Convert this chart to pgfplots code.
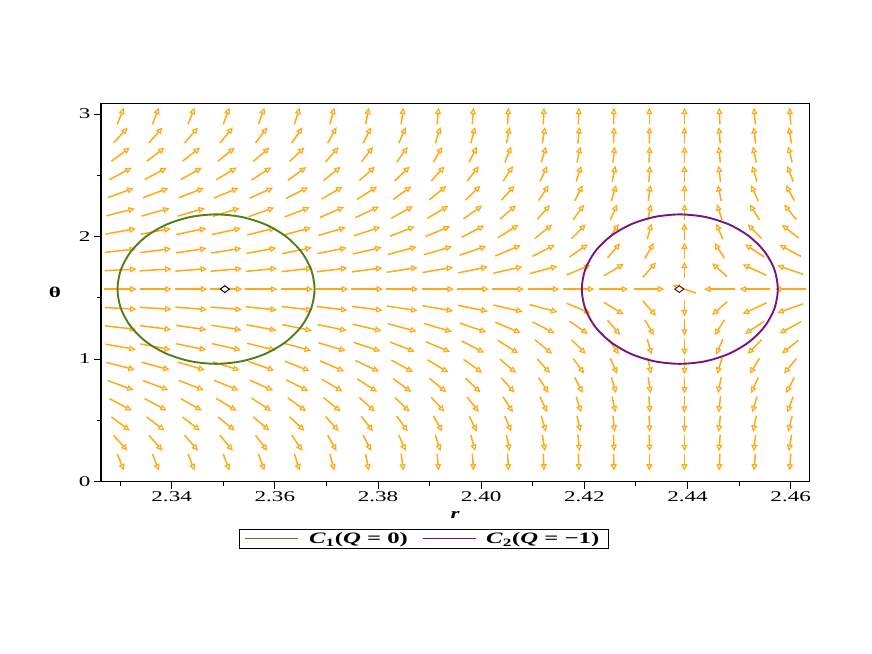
\documentclass[border=0pt]{standalone}
\usepackage{fontspec}
\setmainfont{Liberation Serif}[FakeStretch=1.55]
\usepackage{pgfplots}
\pgfplotsset{compat=1.18}
\usepackage{pgfplotstable}
\usetikzlibrary{arrows.meta}

\definecolor{arrowc}{RGB}{255,170,20}
\definecolor{cgreen}{RGB}{80,126,26}
\definecolor{cpurple}{RGB}{120,22,124}

% field arrows: grid point (r,t), arrow components dx, dy as measured (pixels of the reference)
\pgfplotstableread{
r t dx dy
2.3301 0.1571 6.7 -16.7
2.3301 0.3142 14.0 -15.3
2.3301 0.4712 18.5 -13.7
2.3301 0.6283 22.5 -12.0
2.3301 0.7854 26.0 -9.5
2.3301 0.9425 28.5 -7.3
2.3301 1.0996 30.5 -5.3
2.3301 1.2566 31.0 -3.5
2.3301 1.4137 32.0 -1.7
2.3301 1.5708 32.3 0
2.3301 1.7279 32.0 1.7
2.3301 1.8850 31.0 3.5
2.3301 2.0420 30.5 5.3
2.3301 2.1991 28.5 7.3
2.3301 2.3562 26.0 9.5
2.3301 2.5133 22.5 12.0
2.3301 2.6704 18.5 13.7
2.3301 2.8274 14.0 15.3
2.3301 2.9845 6.7 16.7
2.3369 0.1571 6.5 -16.7
2.3369 0.3142 13.7 -15.5
2.3369 0.4712 18.0 -13.5
2.3369 0.6283 22.0 -11.8
2.3369 0.7854 25.5 -9.5
2.3369 0.9425 28.0 -7.7
2.3369 1.0996 30.3 -5.7
2.3369 1.2566 31.0 -4.0
2.3369 1.4137 32.0 -2.0
2.3369 1.5708 32.3 0
2.3369 1.7279 32.0 2.0
2.3369 1.8850 31.0 4.0
2.3369 2.0420 30.3 5.7
2.3369 2.1991 28.0 7.7
2.3369 2.3562 25.5 9.5
2.3369 2.5133 22.0 11.8
2.3369 2.6704 18.0 13.5
2.3369 2.8274 13.7 15.5
2.3369 2.9845 6.5 16.7
2.3438 0.1571 6.5 -16.7
2.3438 0.3142 13.5 -15.6
2.3438 0.4712 17.5 -13.5
2.3438 0.6283 21.3 -12.0
2.3438 0.7854 25.2 -9.8
2.3438 0.9425 27.3 -8.0
2.3438 1.0996 30.0 -6.2
2.3438 1.2566 30.7 -4.5
2.3438 1.4137 31.7 -2.5
2.3438 1.5708 32.3 0
2.3438 1.7279 31.7 2.5
2.3438 1.8850 30.7 4.5
2.3438 2.0420 30.0 6.2
2.3438 2.1991 27.3 8.0
2.3438 2.3562 25.2 9.8
2.3438 2.5133 21.3 12.0
2.3438 2.6704 17.5 13.5
2.3438 2.8274 13.5 15.6
2.3438 2.9845 6.5 16.7
2.3506 0.1571 6.3 -16.7
2.3506 0.3142 13.0 -15.7
2.3506 0.4712 16.8 -13.5
2.3506 0.6283 20.7 -12.3
2.3506 0.7854 24.7 -10.0
2.3506 0.9425 26.7 -8.3
2.3506 1.0996 29.3 -6.5
2.3506 1.2566 30.3 -4.8
2.3506 1.4137 31.3 -2.8
2.3506 1.5708 32.3 0
2.3506 1.7279 31.3 2.8
2.3506 1.8850 30.3 4.8
2.3506 2.0420 29.3 6.5
2.3506 2.1991 26.7 8.3
2.3506 2.3562 24.7 10.0
2.3506 2.5133 20.7 12.3
2.3506 2.6704 16.8 13.5
2.3506 2.8274 13.0 15.7
2.3506 2.9845 6.3 16.7
2.3574 0.1571 6.0 -16.7
2.3574 0.3142 12.0 -15.7
2.3574 0.4712 16.3 -13.8
2.3574 0.6283 19.8 -12.8
2.3574 0.7854 23.5 -10.3
2.3574 0.9425 25.8 -9.0
2.3574 1.0996 28.5 -7.0
2.3574 1.2566 30.0 -5.5
2.3574 1.4137 31.3 -3.2
2.3574 1.5708 32.3 0
2.3574 1.7279 31.3 3.2
2.3574 1.8850 30.0 5.5
2.3574 2.0420 28.5 7.0
2.3574 2.1991 25.8 9.0
2.3574 2.3562 23.5 10.3
2.3574 2.5133 19.8 12.8
2.3574 2.6704 16.3 13.8
2.3574 2.8274 12.0 15.7
2.3574 2.9845 6.0 16.7
2.3643 0.1571 5.3 -16.7
2.3643 0.3142 10.7 -15.8
2.3643 0.4712 15.0 -14.2
2.3643 0.6283 18.5 -13.3
2.3643 0.7854 22.3 -11.2
2.3643 0.9425 25.0 -9.8
2.3643 1.0996 28.0 -7.5
2.3643 1.2566 29.7 -6.0
2.3643 1.4137 31.0 -3.6
2.3643 1.5708 32.3 0
2.3643 1.7279 31.0 3.6
2.3643 1.8850 29.7 6.0
2.3643 2.0420 28.0 7.5
2.3643 2.1991 25.0 9.8
2.3643 2.3562 22.3 11.2
2.3643 2.5133 18.5 13.3
2.3643 2.6704 15.0 14.2
2.3643 2.8274 10.7 15.8
2.3643 2.9845 5.3 16.7
2.3711 0.1571 4.3 -16.7
2.3711 0.3142 9.0 -16.0
2.3711 0.4712 13.0 -14.8
2.3711 0.6283 17.0 -13.8
2.3711 0.7854 21.0 -12.3
2.3711 0.9425 24.3 -10.5
2.3711 1.0996 27.3 -8.0
2.3711 1.2566 29.3 -6.0
2.3711 1.4137 30.7 -3.8
2.3711 1.5708 32.0 0
2.3711 1.7279 30.7 3.8
2.3711 1.8850 29.3 6.0
2.3711 2.0420 27.3 8.0
2.3711 2.1991 24.3 10.5
2.3711 2.3562 21.0 12.3
2.3711 2.5133 17.0 13.8
2.3711 2.6704 13.0 14.8
2.3711 2.8274 9.0 16.0
2.3711 2.9845 4.3 16.7
2.3779 0.1571 3.3 -16.7
2.3779 0.3142 8.0 -16.0
2.3779 0.4712 11.7 -15.0
2.3779 0.6283 15.7 -14.0
2.3779 0.7854 20.0 -12.8
2.3779 0.9425 23.7 -11.0
2.3779 1.0996 26.7 -8.8
2.3779 1.2566 29.0 -6.7
2.3779 1.4137 30.7 -4.0
2.3779 1.5708 32.0 0
2.3779 1.7279 30.7 4.0
2.3779 1.8850 29.0 6.7
2.3779 2.0420 26.7 8.8
2.3779 2.1991 23.7 11.0
2.3779 2.3562 20.0 12.8
2.3779 2.5133 15.7 14.0
2.3779 2.6704 11.7 15.0
2.3779 2.8274 8.0 16.0
2.3779 2.9845 3.3 16.7
2.3847 0.1571 2.3 -16.7
2.3847 0.3142 7.0 -16.0
2.3847 0.4712 11.0 -15.2
2.3847 0.6283 15.0 -14.3
2.3847 0.7854 18.3 -13.3
2.3847 0.9425 21.7 -12.0
2.3847 1.0996 25.0 -9.7
2.3847 1.2566 28.7 -7.7
2.3847 1.4137 30.7 -4.7
2.3847 1.5708 32.0 0
2.3847 1.7279 30.7 4.7
2.3847 1.8850 28.7 7.7
2.3847 2.0420 25.0 9.7
2.3847 2.1991 21.7 12.0
2.3847 2.3562 18.3 13.3
2.3847 2.5133 15.0 14.3
2.3847 2.6704 11.0 15.2
2.3847 2.8274 7.0 16.0
2.3847 2.9845 2.3 16.7
2.3916 0.1571 1.5 -16.7
2.3916 0.3142 5.3 -16.2
2.3916 0.4712 9.0 -15.4
2.3916 0.6283 13.3 -14.6
2.3916 0.7854 17.0 -14.0
2.3916 0.9425 21.0 -12.5
2.3916 1.0996 24.7 -10.3
2.3916 1.2566 28.3 -8.3
2.3916 1.4137 30.7 -5.3
2.3916 1.5708 32.0 0
2.3916 1.7279 30.7 5.3
2.3916 1.8850 28.3 8.3
2.3916 2.0420 24.7 10.3
2.3916 2.1991 21.0 12.5
2.3916 2.3562 17.0 14.0
2.3916 2.5133 13.3 14.6
2.3916 2.6704 9.0 15.4
2.3916 2.8274 5.3 16.2
2.3916 2.9845 1.5 16.7
2.3984 0.1571 1.2 -16.7
2.3984 0.3142 4.3 -16.2
2.3984 0.4712 7.7 -15.6
2.3984 0.6283 11.7 -15.0
2.3984 0.7854 15.0 -14.5
2.3984 0.9425 18.7 -13.2
2.3984 1.0996 22.7 -11.7
2.3984 1.2566 26.7 -9.2
2.3984 1.4137 30.0 -6.0
2.3984 1.5708 32.0 0
2.3984 1.7279 30.0 6.0
2.3984 1.8850 26.7 9.2
2.3984 2.0420 22.7 11.7
2.3984 2.1991 18.7 13.2
2.3984 2.3562 15.0 14.5
2.3984 2.5133 11.7 15.0
2.3984 2.6704 7.7 15.6
2.3984 2.8274 4.3 16.2
2.3984 2.9845 1.2 16.7
2.4052 0.1571 1.0 -16.7
2.4052 0.3142 3.3 -16.3
2.4052 0.4712 6.5 -15.8
2.4052 0.6283 10.0 -15.3
2.4052 0.7854 13.3 -14.8
2.4052 0.9425 16.0 -13.8
2.4052 1.0996 20.7 -13.0
2.4052 1.2566 25.5 -10.7
2.4052 1.4137 29.3 -6.7
2.4052 1.5708 32.0 0
2.4052 1.7279 29.3 6.7
2.4052 1.8850 25.5 10.7
2.4052 2.0420 20.7 13.0
2.4052 2.1991 16.0 13.8
2.4052 2.3562 13.3 14.8
2.4052 2.5133 10.0 15.3
2.4052 2.6704 6.5 15.8
2.4052 2.8274 3.3 16.3
2.4052 2.9845 1.0 16.7
2.4121 0.1571 0.8 -16.7
2.4121 0.3142 2.7 -16.4
2.4121 0.4712 5.0 -16.0
2.4121 0.6283 7.3 -15.5
2.4121 0.7854 10.0 -15.3
2.4121 0.9425 12.7 -14.3
2.4121 1.0996 17.3 -14.0
2.4121 1.2566 22.3 -11.5
2.4121 1.4137 28.0 -7.5
2.4121 1.5708 31.7 0
2.4121 1.7279 28.0 7.5
2.4121 1.8850 22.3 11.5
2.4121 2.0420 17.3 14.0
2.4121 2.1991 12.7 14.3
2.4121 2.3562 10.0 15.3
2.4121 2.5133 7.3 15.5
2.4121 2.6704 5.0 16.0
2.4121 2.8274 2.7 16.4
2.4121 2.9845 0.8 16.7
2.4189 0.1571 0.7 -16.7
2.4189 0.3142 1.7 -16.5
2.4189 0.4712 3.3 -16.0
2.4189 0.6283 5.0 -15.7
2.4189 0.7854 7.7 -15.5
2.4189 0.9425 11.0 -15.0
2.4189 1.0996 14.3 -14.3
2.4189 1.2566 18.3 -12.7
2.4189 1.4137 24.0 -10.0
2.4189 1.5708 31.7 0
2.4189 1.7279 24.0 10.0
2.4189 1.8850 18.3 12.7
2.4189 2.0420 14.3 14.3
2.4189 2.1991 11.0 15.0
2.4189 2.3562 7.7 15.5
2.4189 2.5133 5.0 15.7
2.4189 2.6704 3.3 16.0
2.4189 2.8274 1.7 16.5
2.4189 2.9845 0.7 16.7
2.4257 0.1571 0.5 -16.7
2.4257 0.3142 0.7 -16.5
2.4257 0.4712 1.7 -16.3
2.4257 0.6283 3.3 -16.0
2.4257 0.7854 4.7 -16.0
2.4257 0.9425 6.7 -15.7
2.4257 1.0996 10.0 -15.3
2.4257 1.2566 12.7 -14.7
2.4257 1.4137 20.0 -12.0
2.4257 1.5708 29.0 0
2.4257 1.7279 20.0 12.0
2.4257 1.8850 12.7 14.7
2.4257 2.0420 10.0 15.3
2.4257 2.1991 6.7 15.7
2.4257 2.3562 4.7 16.0
2.4257 2.5133 3.3 16.0
2.4257 2.6704 1.7 16.3
2.4257 2.8274 0.7 16.5
2.4257 2.9845 0.5 16.7
2.4326 0.1571 0.0 -16.7
2.4326 0.3142 0.3 -16.5
2.4326 0.4712 0.7 -16.3
2.4326 0.6283 1.0 -16.2
2.4326 0.7854 2.3 -16.0
2.4326 0.9425 3.3 -16.0
2.4326 1.0996 4.3 -15.7
2.4326 1.2566 9.0 -15.5
2.4326 1.4137 13.3 -15.0
2.4326 1.5708 30.0 0
2.4326 1.7279 13.3 15.0
2.4326 1.8850 9.0 15.5
2.4326 2.0420 4.3 15.7
2.4326 2.1991 3.3 16.0
2.4326 2.3562 2.3 16.0
2.4326 2.5133 1.0 16.2
2.4326 2.6704 0.7 16.3
2.4326 2.8274 0.3 16.5
2.4326 2.9845 0.0 16.7
2.4394 0.1571 0 -16.7
2.4394 0.3142 0 -16.5
2.4394 0.4712 0 -16.5
2.4394 0.6283 0 -16.5
2.4394 0.7854 0 -16.5
2.4394 0.9425 0 -16.5
2.4394 1.0996 0 -16.5
2.4394 1.2566 0 -16.5
2.4394 1.4137 0 -16.5
2.4394 1.5708 -23.0 8.0
2.4394 1.7279 0 16.5
2.4394 1.8850 0 16.5
2.4394 2.0420 0 16.5
2.4394 2.1991 0 16.5
2.4394 2.3562 0 16.5
2.4394 2.5133 0 16.5
2.4394 2.6704 0 16.5
2.4394 2.8274 0 16.5
2.4394 2.9845 0 16.7
2.4462 0.1571 -0.7 -16.7
2.4462 0.3142 -1.3 -16.5
2.4462 0.4712 -1.7 -16.3
2.4462 0.6283 -2.0 -16.2
2.4462 0.7854 -3.3 -16.0
2.4462 0.9425 -5.0 -16.0
2.4462 1.0996 -6.7 -15.7
2.4462 1.2566 -10.0 -15.5
2.4462 1.4137 -15.0 -13.3
2.4462 1.5708 -31.0 0
2.4462 1.7279 -15.0 13.3
2.4462 1.8850 -10.0 15.5
2.4462 2.0420 -6.7 15.7
2.4462 2.1991 -5.0 16.0
2.4462 2.3562 -3.3 16.0
2.4462 2.5133 -2.0 16.2
2.4462 2.6704 -1.7 16.3
2.4462 2.8274 -1.3 16.5
2.4462 2.9845 -0.7 16.7
2.4530 0.1571 -1.5 -16.7
2.4530 0.3142 -2.0 -16.5
2.4530 0.4712 -3.3 -16.3
2.4530 0.6283 -4.7 -16.0
2.4530 0.7854 -7.3 -15.8
2.4530 0.9425 -9.7 -15.5
2.4530 1.0996 -14.0 -14.3
2.4530 1.2566 -19.3 -12.7
2.4530 1.4137 -24.0 -11.0
2.4530 1.5708 -30.0 0
2.4530 1.7279 -24.0 11.0
2.4530 1.8850 -19.3 12.7
2.4530 2.0420 -14.0 14.3
2.4530 2.1991 -9.7 15.5
2.4530 2.3562 -7.3 15.8
2.4530 2.5133 -4.7 16.0
2.4530 2.6704 -3.3 16.3
2.4530 2.8274 -2.0 16.5
2.4530 2.9845 -1.5 16.7
2.4599 0.1571 -1.3 -16.7
2.4599 0.3142 -2.7 -16.5
2.4599 0.4712 -4.0 -16.2
2.4599 0.6283 -6.0 -15.8
2.4599 0.7854 -8.3 -15.5
2.4599 0.9425 -12.3 -15.0
2.4599 1.0996 -16.7 -13.3
2.4599 1.2566 -21.7 -11.7
2.4599 1.4137 -26.0 -9.0
2.4599 1.5708 -31.0 0
2.4599 1.7279 -26.0 9.0
2.4599 1.8850 -21.7 11.7
2.4599 2.0420 -16.7 13.3
2.4599 2.1991 -12.3 15.0
2.4599 2.3562 -8.3 15.5
2.4599 2.5133 -6.0 15.8
2.4599 2.6704 -4.0 16.2
2.4599 2.8274 -2.7 16.5
2.4599 2.9845 -1.3 16.7
}\fieldtab

\begin{document}
\begin{tikzpicture}
\begin{axis}[
  at={(0,0)}, anchor=south west,
  width=708.3bp, height=378.2bp,
  scale only axis,
  xmin=2.3263, xmax=2.4636,
  ymin=0, ymax=3.088,
  xtick={2.34,2.36,2.38,2.40,2.42,2.44,2.46},
  minor xtick={2.33,2.35,2.37,2.39,2.41,2.43,2.45},
  ytick={0,1,2,3},
  minor ytick={0.5,1.5,2.5},
  tick align=outside, tick pos=left,
  major tick length=7bp, minor tick length=4bp,
  tick style={black, line width=1bp},
  axis line style={line width=1.2bp},
  /pgf/number format/assume math mode=true,
  xticklabel style={/pgf/number format/.cd, fixed, fixed zerofill, precision=2},
  yticklabel style={/pgf/number format/.cd, fixed, precision=0},
  every tick label/.append style={font=\fontsize{15}{17}\selectfont},
  xlabel={\textbf{\textit{r}}},
  ylabel={\textbf{θ}},
  label style={font=\fontsize{15}{17}\selectfont},
  xlabel style={at={(axis description cs:0.5,-0.089)}, anchor=center},
  ylabel style={at={(axis description cs:-0.065,0.5)}, anchor=center, rotate=-90},
  legend style={at={(0.456,-0.126)}, anchor=north, legend columns=2,
    draw=black, line width=0.8bp, inner xsep=5bp, inner ysep=1bp,
    nodes={inner xsep=4bp},
    font=\fontsize{16}{17}\selectfont,
    /tikz/every even column/.append style={column sep=10bp},
    /tikz/every odd column/.append style={column sep=6bp}},
]
% vector field, arrows centred on the grid points
\addplot[forget plot, arrowc, line width=1.5bp, -{Triangle[open, length=6.5bp, width=6bp, line width=1.2bp]},
  quiver={u=\thisrow{dx}*0.0001938, v=\thisrow{dy}*0.0081766}]
  table[x expr=\thisrow{r}-0.5*0.0001938*\thisrow{dx},
        y expr=\thisrow{t}-0.5*0.0081766*\thisrow{dy}] {\fieldtab};

% C1 (Q=0)
\addplot[cgreen, line width=1.9bp, smooth cycle,
  legend image code/.code={\draw[draw=cgreen, line width=1.3bp] (0bp,0bp) -- (53bp,0bp);}]
  coordinates {
  (2.3677,1.5708) (2.36705,1.7287) (2.36514,1.8758) (2.36211,2.0021)
  (2.35815,2.0991) (2.35354,2.1600) (2.3486,2.1808) (2.34366,2.1600)
  (2.33905,2.0991) (2.33509,2.0021) (2.33206,1.8758) (2.33015,1.7287)
  (2.3295,1.5708) (2.33015,1.4129) (2.33206,1.2658) (2.33509,1.1395)
  (2.33905,1.0425) (2.34366,0.9816) (2.3486,0.9608) (2.35354,0.9816)
  (2.35815,1.0425) (2.36211,1.1395) (2.36514,1.2658) (2.36705,1.4129)
};
\addlegendentry{\textbf{\textit{C}\textsubscript{1}(\textit{Q} = 0)}}

% C2 (Q=-1)
\addplot[cpurple, line width=1.9bp, smooth cycle,
  legend image code/.code={\draw[draw=cpurple, line width=1.3bp] (0bp,0bp) -- (53bp,0bp);}]
  coordinates {
  (2.4575,1.5708) (2.45685,1.7287) (2.45495,1.8758) (2.45193,2.0021)
  (2.4480,2.0991) (2.44342,2.1600) (2.4385,2.1808) (2.43358,2.1600)
  (2.4290,2.0991) (2.42507,2.0021) (2.42205,1.8758) (2.42015,1.7287)
  (2.4195,1.5708) (2.42015,1.4129) (2.42205,1.2658) (2.42507,1.1395)
  (2.4290,1.0425) (2.43358,0.9816) (2.4385,0.9608) (2.44342,0.9816)
  (2.4480,1.0425) (2.45193,1.1395) (2.45495,1.2658) (2.45685,1.4129)
};
\addlegendentry{\textbf{\textit{C}\textsubscript{2}(\textit{Q} = −1)}}

% centres
\addplot[forget plot, only marks, mark=diamond*, mark size=4.5bp,
  mark options={rotate=90, solid, fill=white, draw=black, line width=1bp}]
  coordinates {(2.3503,1.5708)};
\addplot[forget plot, only marks, mark=diamond*, mark size=4.5bp,
  mark options={rotate=90, solid, fill=white, draw={rgb,255:red,110;green,20;blue,20}, line width=1bp}]
  coordinates {(2.4384,1.5708)};
\end{axis}
\path (-101bp,-172.5bp) rectangle (771bp,481.5bp);
\end{tikzpicture}
\end{document}
